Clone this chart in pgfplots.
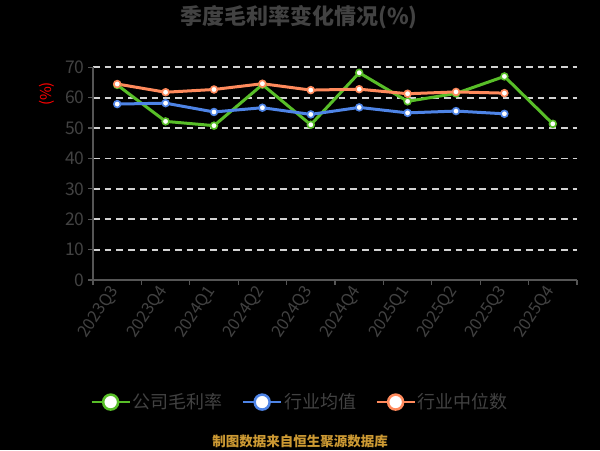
\documentclass[border=0pt]{standalone}
\usepackage{pgfplots}
\pgfplotsset{compat=1.18}
\usepackage{fontspec}
\setmainfont{Noto Sans CJK SC}
\definecolor{cgreen}{RGB}{88,190,40}
\definecolor{cblue}{RGB}{78,132,230}
\definecolor{corange}{RGB}{255,138,92}
\definecolor{tgray}{RGB}{66,66,66}
\definecolor{agray}{RGB}{85,85,85}
\definecolor{ggray}{RGB}{210,210,210}
\definecolor{gold}{RGB}{204,153,51}
\begin{document}
\begin{tikzpicture}[x=1pt,y=1pt]
\fill[black] (0pt,0pt) rectangle (600pt,-450pt);
\node[font=\bfseries\fontsize{22}{24}\selectfont, text=tgray] at (299pt,-17pt) {季度毛利率变化情况(\%)};
\node[text=red, rotate=90, font=\fontsize{15}{15}\selectfont] at (47pt,-94pt) {(\%)};
\begin{axis}[
  at={(93pt,-280pt)}, anchor=south west,
  width=484pt, height=212.7pt, scale only axis,
  xmin=-0.5, xmax=9.5, ymin=0, ymax=70,
  ytick={0,10,...,70},
  xtick={0,...,9},
  xticklabels={2023Q3,2023Q4,2024Q1,2024Q2,2024Q3,2024Q4,2025Q1,2025Q2,2025Q3,2025Q4},
  minor xtick={-0.5,0.5,...,9.5},
  major x tick style={draw=none},
  axis x line*=bottom, axis y line*=left,
  axis line style={agray, line width=1.2pt},
  tick align=outside,
  tick style={agray, line width=1.2pt},
  major tick length=5pt, minor tick length=5pt,
  ymajorgrids,
  grid style={ggray, line width=1.8pt, dash pattern=on 6.7pt off 5pt},
  /pgf/number format/assume math mode=true,
  y tick label style={font=\fontsize{17.5}{17.5}\selectfont, text=tgray},
  x tick label style={rotate=56, anchor=east, font=\fontsize{16.5}{16.5}\selectfont, text=tgray},
  legend style={at={(0.428,-0.574)}, anchor=center, legend columns=3, draw=none, fill=none,
    font=\fontsize{18}{20}\selectfont, text=tgray,
    /tikz/every even column/.append style={column sep=17pt}},
  legend image code/.code={
    \draw[#1, mark=none, line width=2.5pt] (0pt,0pt) -- (38pt,0pt);
    \draw[#1, mark=none, fill=white, line width=2.5pt] (19pt,0pt) circle (7.5pt);
  },
]
\addplot[cgreen, line width=3pt, mark=*, mark size=3.4pt, mark options={fill=white, line width=1.6pt}]
 coordinates {(0,64.2) (1,52.2) (2,50.8) (3,64.3) (4,51.1) (5,68.2) (6,58.8) (7,61.4) (8,67.0) (9,51.4)};
\addlegendentry{公司毛利率}
\addplot[cblue, line width=3pt, mark=*, mark size=3.4pt, mark options={fill=white, line width=1.6pt}]
 coordinates {(0,57.9) (1,58.2) (2,55.3) (3,56.7) (4,54.5) (5,56.8) (6,55.0) (7,55.6) (8,54.7)};
\addlegendentry{行业均值}
\addplot[corange, line width=3pt, mark=*, mark size=3.4pt, mark options={fill=white, line width=1.6pt}]
 coordinates {(0,64.5) (1,61.8) (2,62.7) (3,64.6) (4,62.5) (5,62.8) (6,61.3) (7,61.9) (8,61.5)};
\addlegendentry{行业中位数}
\end{axis}
\node[font=\bfseries\fontsize{13.5}{14}\selectfont, text=gold] at (300pt,-441pt) {制图数据来自恒生聚源数据库};
\end{tikzpicture}
\end{document}
